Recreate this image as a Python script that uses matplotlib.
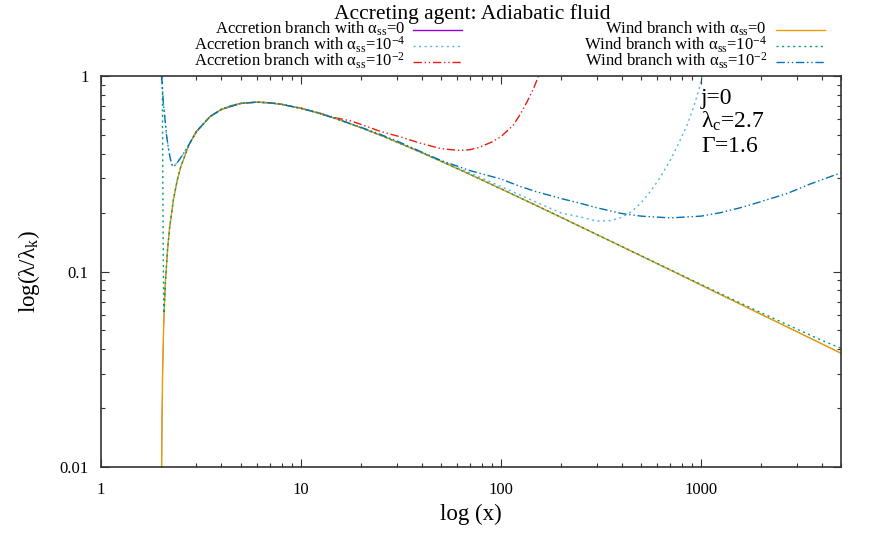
import matplotlib
matplotlib.use("Agg")
import matplotlib.pyplot as plt
from matplotlib.lines import Line2D
from matplotlib.ticker import LogLocator, NullFormatter, FixedLocator, FixedFormatter

plt.rcParams['font.family'] = ['Liberation Serif', 'DejaVu Serif']
plt.rcParams['mathtext.fontset'] = 'custom'
plt.rcParams['mathtext.rm'] = 'Liberation Serif'
plt.rcParams['mathtext.it'] = 'Liberation Serif:italic'
plt.rcParams['mathtext.default'] = 'rm'

# ---------------- data ----------------
# Accretion branch, alpha_ss = 0 (hidden under the wind alpha=0 curve)
x_acc0 = [2.0105, 2.015, 2.02, 2.03, 2.05, 2.07, 2.1, 2.15, 2.2, 2.3, 2.4, 2.5, 2.75, 3, 3.5, 4, 4.5, 5, 6, 7, 8,
          10, 12, 15, 20, 25, 30, 40, 50, 70, 100, 150, 200, 300, 500, 700, 1000, 1500, 2000, 3000, 4000, 5000]
y_acc0 = [0.0100, 0.0142, 0.0188, 0.0280, 0.0460, 0.0635, 0.0888, 0.1285, 0.1655, 0.232, 0.2905, 0.3415, 0.444,
          0.520, 0.619, 0.675, 0.707, 0.724, 0.735, 0.729, 0.716, 0.683, 0.6495, 0.604, 0.543, 0.497, 0.460,
          0.4056, 0.3666, 0.3135, 0.2646, 0.2175, 0.189, 0.1548, 0.1203, 0.1018, 0.0852, 0.0696, 0.0603,
          0.0493, 0.0427, 0.0382]

# Accretion branch, alpha_ss = 1e-4
x_acc4 = [2.012, 2.03, 2.05, 2.1, 2.13, 2.17, 2.21, 2.25, 2.3, 2.35, 2.45, 2.6, 2.75, 2.9, 3, 3.5, 4, 5, 6, 7, 8,
          10, 12, 15, 20, 25, 30, 40, 50, 70, 100, 150, 200, 250, 300, 350, 400, 450, 500, 560, 620, 700, 770,
          850, 920, 980, 1010]
y_acc4 = [1.0, 0.85, 0.725, 0.57, 0.49, 0.43, 0.387, 0.355, 0.344, 0.35, 0.37, 0.405, 0.445, 0.49, 0.52, 0.619,
          0.675, 0.724, 0.735, 0.729, 0.716, 0.683, 0.65, 0.605, 0.544, 0.498, 0.461, 0.408, 0.369, 0.319, 0.272,
          0.226, 0.199, 0.19, 0.181, 0.182, 0.189, 0.203, 0.224, 0.258, 0.30, 0.37, 0.45, 0.56, 0.70, 0.87, 1.0]

# Accretion branch, alpha_ss = 1e-2
x_acc2 = [2.9, 3, 3.5, 4, 5, 6, 7, 8, 10, 12, 15, 17.6, 20, 25, 31, 39, 50, 62, 70, 78, 90, 100, 115, 125, 135,
          145, 154]
y_acc2 = [0.49, 0.52, 0.619, 0.675, 0.724, 0.735, 0.729, 0.716, 0.685, 0.652, 0.61, 0.59, 0.565, 0.52, 0.49,
          0.455, 0.425, 0.416, 0.42, 0.432, 0.46, 0.49, 0.56, 0.64, 0.74, 0.86, 1.0]

# Wind branch, alpha_ss = 0
x_w0 = x_acc0
y_w0 = y_acc0

# Wind branch, alpha_ss = 1e-4
x_w4 = [2.025, 2.035, 2.045, 2.055, 2.062, 2.075, 2.1, 2.15, 2.2, 2.3, 2.4, 2.5, 2.75, 3, 3.5, 4, 4.5, 5, 6, 7, 8,
        10, 12, 15, 20, 25, 30, 40, 50, 70, 100, 150, 200, 300, 500, 700, 1000, 1500, 2000, 3000, 4000, 5000]
y_w4 = [1.0, 0.35, 0.15, 0.08, 0.061, 0.067, 0.0888, 0.1285, 0.1655, 0.232, 0.2905, 0.3415, 0.444, 0.520, 0.619,
        0.675, 0.707, 0.724, 0.735, 0.729, 0.716, 0.683, 0.6495, 0.604, 0.543, 0.497, 0.460, 0.4056, 0.3666,
        0.3135, 0.2646, 0.2175, 0.189, 0.1548, 0.1205, 0.1022, 0.0858, 0.0705, 0.0615, 0.0508, 0.0445, 0.0405]

# Wind branch, alpha_ss = 1e-2
x_w2 = [2.012, 2.03, 2.05, 2.1, 2.13, 2.17, 2.21, 2.25, 2.3, 2.35, 2.45, 2.6, 2.75, 2.9, 3, 3.5, 4, 5, 6, 7, 8,
        10, 12, 15, 20, 25, 30, 40, 50, 70, 100, 125, 150, 200, 250, 300, 400, 500, 700, 1000, 1250, 1600, 2000,
        2700, 3500, 5000]
y_w2 = [1.0, 0.85, 0.725, 0.57, 0.49, 0.43, 0.387, 0.355, 0.344, 0.35, 0.37, 0.405, 0.445, 0.49, 0.52, 0.619,
        0.675, 0.724, 0.735, 0.729, 0.716, 0.683, 0.65, 0.605, 0.546, 0.502, 0.466, 0.409, 0.37, 0.328, 0.297,
        0.272, 0.256, 0.236, 0.223, 0.212, 0.198, 0.192, 0.188, 0.192, 0.2, 0.213, 0.228, 0.251, 0.28, 0.32]

x_ticks = [1, 10, 100, 1000]
x_ticklabels = ['1', '10', '100', '1000']
y_ticks = [0.01, 0.1, 1]
y_ticklabels = ['0.01', '0.1', '1']

title = 'Accreting agent: Adiabatic fluid'
labels = [
    r'Accretion branch with $\alpha_{ss}$=0',
    r'Accretion branch with $\alpha_{ss}$=10$^{-4}$',
    r'Accretion branch with $\alpha_{ss}$=10$^{-2}$',
    r'Wind branch with $\alpha_{ss}$=0',
    r'Wind branch with $\alpha_{ss}$=10$^{-4}$',
    r'Wind branch with $\alpha_{ss}$=10$^{-2}$',
]
colors = ['#9400D3', '#56B4E9', '#E51E10', '#E69F00', '#009E73', '#0072B2']

# ---------------- figure ----------------
W, H = 872, 545
fig = plt.figure(figsize=(W/100, H/100), dpi=100)
ax = fig.add_axes([101/W, 1-467/H, 740/W, 391/H])

dashdot = (0, (6, 2, 1, 2, 1, 2))
dotted = (0, (1.5, 2.5))
styles = ['-', dotted, dashdot, '-', dotted, dashdot]
series = [(x_acc0, y_acc0), (x_acc4, y_acc4), (x_acc2, y_acc2), (x_w0, y_w0), (x_w4, y_w4), (x_w2, y_w2)]
lws = [0.5, 1.0, 1.0, 1.0, 1.0, 1.0]
for (xs, ys), c, st, lw in zip(series, colors, styles, lws):
    ax.plot(xs, ys, color=c, lw=lw, ls=st)

ax.set_xscale('log')
ax.set_yscale('log')
ax.set_xlim(1, 5000)
ax.set_ylim(0.01, 1)

ax.xaxis.set_major_locator(FixedLocator(x_ticks))
ax.xaxis.set_major_formatter(FixedFormatter(x_ticklabels))
ax.yaxis.set_major_locator(FixedLocator(y_ticks))
ax.yaxis.set_major_formatter(FixedFormatter(y_ticklabels))
ax.xaxis.set_minor_locator(LogLocator(base=10, subs=range(2, 10), numticks=20))
ax.yaxis.set_minor_locator(LogLocator(base=10, subs=range(2, 10), numticks=20))
ax.xaxis.set_minor_formatter(NullFormatter())
ax.yaxis.set_minor_formatter(NullFormatter())
ax.tick_params(which='both', direction='in', top=True, right=True, colors='#333333',
               labelcolor='black', labelsize=12, width=0.8)
ax.tick_params(axis='x', which='major', length=6, pad=11)
ax.tick_params(axis='y', which='major', length=6, pad=9)
ax.tick_params(which='minor', length=3)
for s in ax.spines.values():
    s.set_linewidth(1.2)
    s.set_color('#333333')

ax.set_xlabel('log (x)', fontsize=16.5)
ax.set_ylabel(r'log($\lambda$/$\lambda_{k}$)', fontsize=16.5)
ax.xaxis.set_label_coords(0.5, -0.095)
ax.yaxis.set_label_coords(-0.08, 0.5)

fig.text(701/W, 1-104/H, 'j=0', fontsize=17, ha='left', va='baseline')
fig.text(701/W, 1-128/H, r'$\lambda_{c}$=2.7', fontsize=17, ha='left', va='baseline')
fig.text(701/W, 1-152/H, r'$\Gamma$=1.6', fontsize=17, ha='left', va='baseline')

fig.text(472/W, 1-14/H, title, fontsize=15.5, ha='center', va='center')

# legend drawn as a gnuplot-style key: text right-aligned, sample to the right
text_right = [405, 405, 405, 767, 767, 767]
sample_x = [(413, 462), (413, 462), (413, 462), (776, 825), (776, 825), (776, 825)]
row_base = [34, 50, 66, 34, 50, 66]
for i in range(6):
    fig.text(text_right[i]/W, 1-row_base[i]/H, labels[i], fontsize=12, ha='right', va='baseline')
    yl = 1-(row_base[i]-4)/H
    fig.add_artist(Line2D([sample_x[i][0]/W, sample_x[i][1]/W], [yl, yl], transform=fig.transFigure,
                          color=colors[i], lw=1.0, ls=styles[i]))

fig.savefig('out.png', dpi=100)
